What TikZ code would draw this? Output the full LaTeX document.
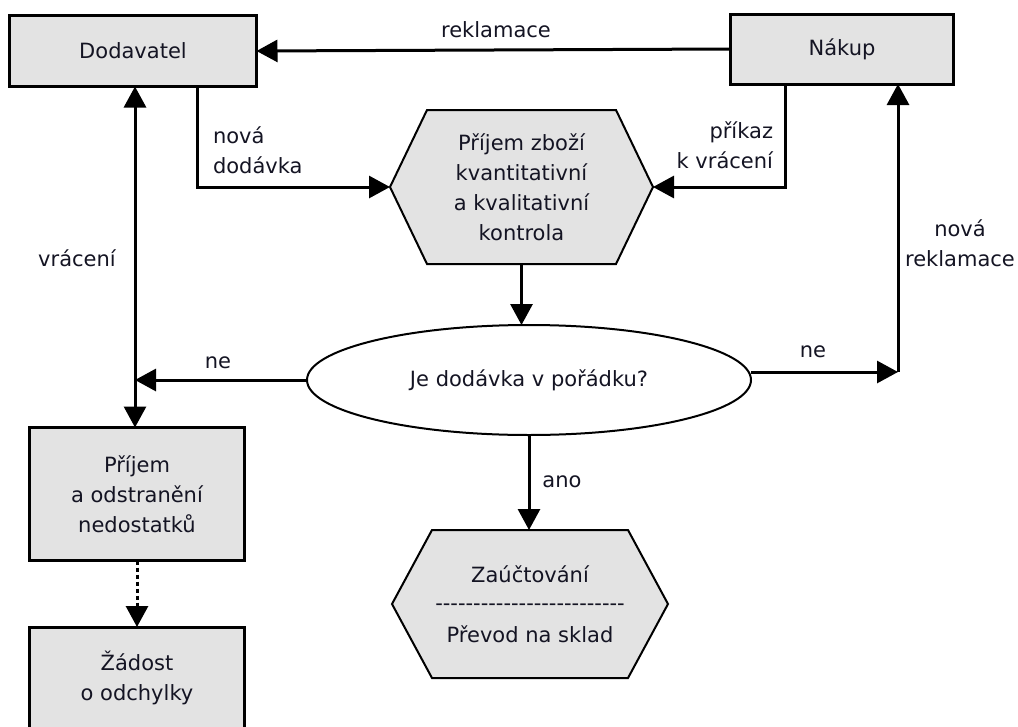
\documentclass[tikz,border=0pt]{standalone}
\usepackage{fontspec}
\setmainfont{DejaVu Sans}
\usetikzlibrary{arrows.meta,shapes.geometric,backgrounds,calc}
\definecolor{boxgray}{RGB}{227,227,227}
\definecolor{txt}{RGB}{20,20,35}
\newcommand\hy{-\kern0pt}
\begin{document}
\begin{tikzpicture}[x=1pt,y=-1pt,
  every node/.style={font=\fontsize{21}{30}\selectfont, inner sep=0pt, outer sep=0pt, text=txt},
  box/.style={draw, line width=3pt, fill=boxgray, align=center},
  hexnode/.style={align=center},
  hexline/.style={draw=black, line width=2pt, fill=boxgray},
  conn/.style={line width=3pt, -{Triangle[length=21pt,width=22pt]}},
  dotconn/.style={conn, dash pattern=on 4pt off 3pt}
]
\useasboundingbox (0,0) rectangle (1018,726);

% nodes
\node[box, minimum width=247pt, minimum height=71pt] (dod) at (133,51) {Dodavatel};
\node[box, minimum width=223pt, minimum height=70pt] (nak) at (842,49) {Nákup};
\node[hexnode, minimum width=263pt, minimum height=154pt] (hex1) at (521.5,187)
  {Příjem zboží\\kvantitativní\\a kvalitativní\\kontrola};
\node[ellipse, draw, line width=2pt, fill=white, minimum width=444pt, minimum height=110pt] (ell) at (529,380)
  {Je dodávka v pořádku?};
\node[box, minimum width=215pt, minimum height=133pt] (prij) at (137,494)
  {Příjem\\a odstranění\\nedostatků};
\node[box, minimum width=215pt, minimum height=102pt] (zad) at (137,678)
  {Žádost\\o odchylky};
\node[hexnode, minimum width=276pt, minimum height=148pt] (hex2) at (530,604)
  {Zaúčtování\\[-2pt]\hy\hy\hy\hy\hy\hy\hy\hy\hy\hy\hy\hy\hy\hy\hy\hy\hy\hy\hy\hy\hy\hy\hy\hy\hy\\[2pt]Převod na sklad};

\begin{scope}[on background layer]
  \path[hexline] (hex1.west) -- ([xshift=37pt]hex1.north west) -- ([xshift=-37pt]hex1.north east)
    -- (hex1.east) -- ([xshift=-37pt]hex1.south east) -- ([xshift=37pt]hex1.south west) -- cycle;
  \path[hexline] (hex2.west) -- ([xshift=40pt]hex2.north west) -- ([xshift=-40pt]hex2.north east)
    -- (hex2.east) -- ([xshift=-40pt]hex2.south east) -- ([xshift=40pt]hex2.south west) -- cycle;
\end{scope}

% helper coordinates
\coordinate (c1) at (197,187);
\coordinate (c2) at (785,187);
\coordinate (vr) at (135,380);
\coordinate (nr) at (898,372);

% connectors
\draw[conn] (nak.west) -- (dod.east);
\draw[conn] (dod.south -| c1) |- (hex1.west);
\draw[conn] (nak.south -| c2) |- (hex1.east);
\draw[conn] (hex1.south) -- (hex1.south |- ell.north);
\draw[conn] (ell.south) -- (ell.south |- hex2.north);
\draw[conn] (ell.west) -- (vr);
\draw[conn] (vr) -- (dod.south -| vr);
\draw[conn] (vr) -- (prij.north -| vr);
\draw[conn] ([yshift=8pt]ell.east) -- (nr);
\draw[conn] (nr) -- (nak.south -| nr);
\draw[dotconn] (prij.south) -- (zad.north);

% labels
\node (lrek) at (496,30) {reklamace};
\node[align=left, anchor=west] (lnd) at (213,150) {nová\\dodávka};
\node[align=right, anchor=east] (lpk) at (773,145) {příkaz\\k vrácení};
\node[align=center] (lnr) at (960,243) {nová\\reklamace};
\node (lvr) at (77,258) {vrácení};
\node (lne1) at (218,363) {ne};
\node (lne2) at (813,352) {ne};
\node (lano) at (562,482) {ano};
\end{tikzpicture}
\end{document}
